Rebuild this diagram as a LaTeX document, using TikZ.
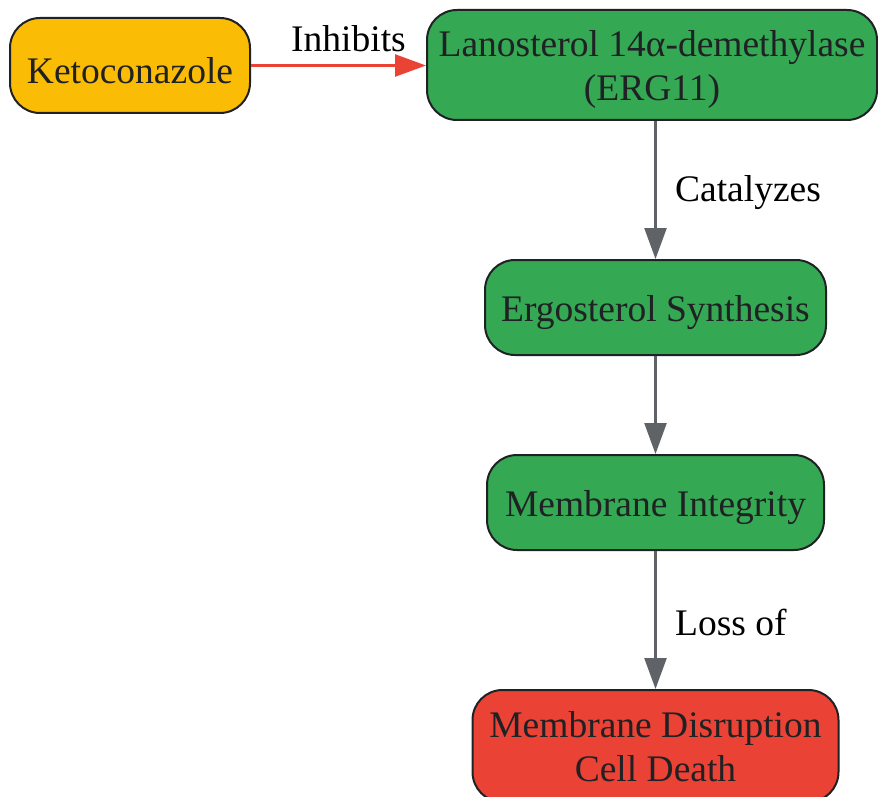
\documentclass[tikz,border=0pt]{standalone}
\usepackage{fontspec}
\setmainfont{Liberation Serif}
\usetikzlibrary{arrows.meta}
\definecolor{kyellow}{HTML}{FBBC05}
\definecolor{kgreen}{HTML}{34A853}
\definecolor{kred}{HTML}{EA4335}
\definecolor{kgray}{HTML}{5F6368}
\definecolor{kdark}{HTML}{202124}
\begin{document}
\begin{tikzpicture}[x=1pt,y=-1pt,
  box/.style={draw=kdark,line width=2pt,rounded corners=30pt,inner sep=0pt},
  btext/.style={text=kdark,font=\fontsize{37.5}{44}\selectfont,align=center,inner sep=0pt,yshift=-4pt},
  flow/.style={draw=kgray,line width=2.5pt,-{Triangle[length=31pt,width=22pt]}},
  inhib/.style={draw=kred,line width=2.5pt,-{Triangle[length=31pt,width=22pt]}},
  elabel/.style={font=\fontsize{37.5}{44}\selectfont,text=black}]
\useasboundingbox (0,0) rectangle (878,797);
\node[box,fill=kyellow,minimum width=240pt,minimum height=95pt,label={[btext,yshift=-1pt]center:Ketoconazole}] (keto) at (130,65.5) {};
\node[box,fill=kgreen,minimum width=450pt,minimum height=110pt,label={[btext]center:Lanosterol 14α-demethylase\\(ERG11)}] (erg11) at (652,65) {};
\node[box,fill=kgreen,minimum width=341pt,minimum height=95pt,label={[btext,yshift=-1pt]center:Ergosterol Synthesis}] (ergo) at (655.5,307.5) {};
\node[box,fill=kgreen,minimum width=337pt,minimum height=95pt,label={[btext,yshift=-1pt]center:Membrane Integrity}] (memb) at (655.5,502.5) {};
\node[box,fill=kred,minimum width=366pt,minimum height=112pt,label={[btext,yshift=3pt]center:Membrane Disruption\\Cell Death}] (death) at (655.5,746) {};
\draw[inhib] (keto.east) -- (keto.east -| erg11.west) node[midway,above=9pt,xshift=10pt,elabel] (l1) {Inhibits};
\draw[flow] (erg11.south -| ergo.north) -- (ergo.north) node[midway,right=15pt,yshift=-3pt,elabel] (l2) {Catalyzes};
\draw[flow] (ergo.south) -- (memb.north);
\draw[flow] (memb.south) -- (death.north) node[midway,right=15pt,yshift=-2pt,elabel] (l3) {Loss of};
\end{tikzpicture}
\end{document}
